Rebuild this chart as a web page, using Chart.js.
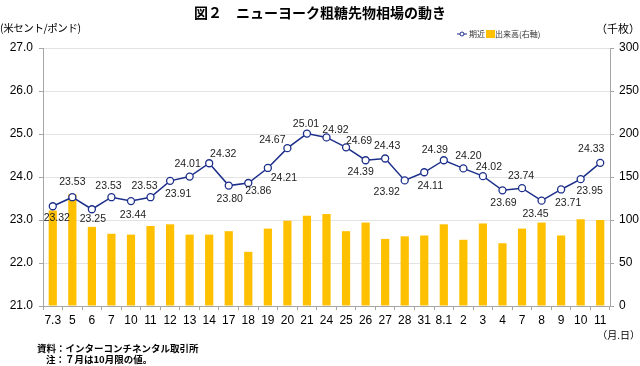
<!DOCTYPE html>
<html lang="ja">
<head>
<meta charset="utf-8">
<script src="https://cdn.jsdelivr.net/npm/chart.js@4.4.0/dist/chart.umd.min.js"></script>
<style>
  html, body { margin: 0; padding: 0; background: #fff; }
  #wrap { position: relative; width: 640px; height: 366px; font-family: 'Liberation Sans', 'Noto Sans CJK JP', sans-serif; color: #000; }
  #wrap canvas { position: absolute; left: 0; top: 0; }
  .txt { position: absolute; white-space: nowrap; line-height: 1; }
</style>
</head>
<body>
<div id="wrap">
  <canvas id="grafico" width="640" height="366"></canvas>
  <div class="txt" style="left:0;width:640px;top:5px;text-align:center;font-size:14px;font-weight:bold;font-family:'Noto Sans CJK JP',sans-serif;">図２　ニューヨーク粗糖先物相場の動き</div>
  <div class="txt" style="left:0;top:23px;font-size:10.5px;letter-spacing:-0.4px;font-family:'Noto Sans CJK JP',sans-serif;">(米セント/ポンド)</div>
  <div class="txt" style="right:0;top:23px;font-size:11px;font-family:'Noto Sans CJK JP',sans-serif;">（千枚）</div>
  <div class="txt" style="right:0;top:330px;font-size:10px;font-family:'Noto Sans CJK JP',sans-serif;">（月.日）</div>
  <div class="txt" style="left:37px;top:344px;font-size:9.5px;font-weight:bold;font-family:'Noto Sans CJK JP',sans-serif;">資料：インターコンチネンタル取引所</div>
  <div class="txt" style="left:46px;top:355px;font-size:9.5px;font-weight:bold;font-family:'Noto Sans CJK JP',sans-serif;">注：７月は10月限の値。</div>
</div>
<script>
// Datos
const fechas = ['7.3','5','6','7','10','11','12','13','14','17','18','19','20','21','24',
  '25','26','27','28','31','8.1','2','3','4','7','8','9','10','11'];
const precios = [23.32,23.53,23.25,23.53,23.44,23.53,23.91,24.01,24.32,23.80,23.86,24.21,24.67,25.01,24.92,
  24.69,24.39,24.43,23.92,24.11,24.39,24.20,24.02,23.69,23.74,23.45,23.71,23.95,24.33];
const volumen = [111,130,92,84,83,93,95,83,83,87,63,90,99,105,107,
  87,97,78,81,82,95,77,96,73,90,97,82,101,100];

// posición de las etiquetas respecto al punto (estilo)
const etiquetaDx = [4,0,1,-3,2,-6,8,-2,14,1,10,16,-15,-1,9,13,-5,2,-18,6,-9,5,6,1,-1,-6,7,9,-9];
const etiquetaDy = [12,-15,10,-11,14,-11,13,-12,-9,14,8,10,-8,-9,-7,-6,12,-12,12,14,-10,-12,-9,13,-12,13,14,12,-14];

const AZUL = '#1c2f8a';
const AMARILLO = '#ffc000';
const GRIS = '#a6a6a6';

const etiquetas = {
  id: 'etiquetas',
  afterDatasetsDraw(chart) {
    const ctx = chart.ctx;
    const meta = chart.getDatasetMeta(0);
    ctx.save();
    ctx.font = '10.5px "Liberation Sans", sans-serif';
    ctx.fillStyle = '#222';
    ctx.textAlign = 'center';
    ctx.textBaseline = 'middle';
    meta.data.forEach((pt, i) => {
      ctx.fillText(precios[i].toFixed(2), pt.x + etiquetaDx[i], pt.y + etiquetaDy[i]);
    });
    ctx.restore();
  }
};

const leyenda = {
  id: 'leyenda',
  afterDraw(chart) {
    const ctx = chart.ctx;
    ctx.save();
    ctx.strokeStyle = AZUL;
    ctx.lineWidth = 1;
    ctx.beginPath();
    ctx.moveTo(457, 34); ctx.lineTo(467, 34);
    ctx.stroke();
    ctx.fillStyle = '#fff';
    ctx.beginPath();
    ctx.arc(462, 34, 2, 0, Math.PI * 2);
    ctx.fill(); ctx.stroke();
    ctx.fillStyle = AMARILLO;
    ctx.fillRect(486, 30, 9, 8);
    ctx.fillStyle = '#333';
    ctx.font = '8px "Noto Sans CJK JP", sans-serif';
    ctx.textBaseline = 'middle';
    ctx.fillText('期近', 469, 34);
    ctx.fillText('出来高(右軸)', 495, 34);
    ctx.restore();
  }
};

new Chart(document.getElementById('grafico'), {
  data: {
    labels: fechas,
    datasets: [
      {
        type: 'line',
        label: '期近',
        data: precios,
        yAxisID: 'y',
        order: 0,
        borderColor: AZUL,
        borderWidth: 1.5,
        pointRadius: 3.5,
        pointBackgroundColor: '#fff',
        pointBorderColor: AZUL,
        pointBorderWidth: 1.3,
        tension: 0
      },
      {
        type: 'bar',
        label: '出来高(右軸)',
        data: volumen,
        yAxisID: 'y1',
        order: 1,
        backgroundColor: AMARILLO,
        barPercentage: 0.42,
        categoryPercentage: 1
      }
    ]
  },
  options: {
    responsive: false,
    animation: false,
    layout: { padding: { top: 48, left: 0, right: 0, bottom: 0 } },
    plugins: { legend: { display: false }, tooltip: { enabled: false } },
    scales: {
      x: {
        offset: true,
        grid: { offset: true, drawOnChartArea: false, tickLength: 4, tickColor: GRIS },
        border: { color: GRIS },
        ticks: { color: '#000', padding: 3, font: { size: 12, family: 'Liberation Sans' }, maxRotation: 0, autoSkip: false },
        afterFit: s => { s.height = 60; }
      },
      y: {
        position: 'left',
        min: 21, max: 27,
        grid: { color: '#e3e3e3', tickColor: GRIS, tickLength: 4 },
        border: { color: GRIS },
        ticks: { stepSize: 1, color: '#000', padding: 6, font: { size: 12, family: 'Liberation Sans' }, callback: v => v.toFixed(1) },
        afterFit: s => { s.width = 43; }
      },
      y1: {
        position: 'right',
        min: 0, max: 300,
        grid: { drawOnChartArea: false, tickColor: GRIS, tickLength: 4 },
        border: { color: GRIS },
        ticks: { stepSize: 50, color: '#000', padding: 5, font: { size: 12, family: 'Liberation Sans' } },
        afterFit: s => { s.width = 30; }
      }
    }
  },
  plugins: [etiquetas, leyenda]
});
</script>
</body>
</html>
